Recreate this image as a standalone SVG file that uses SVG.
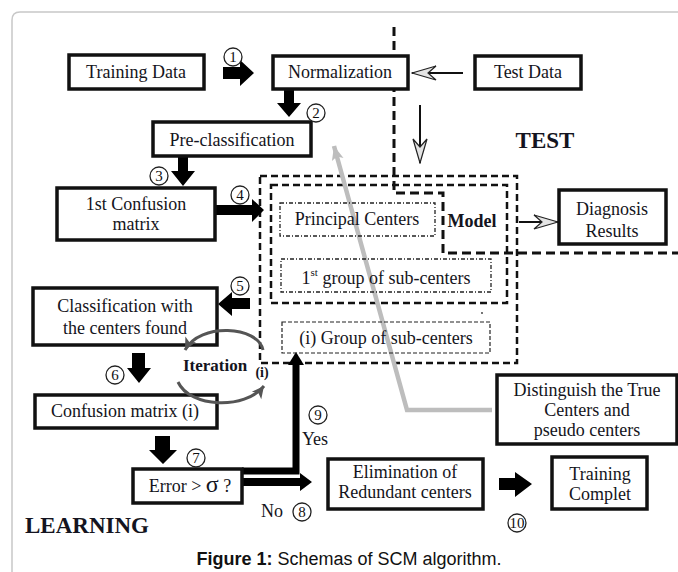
<svg xmlns="http://www.w3.org/2000/svg" width="678" height="572" viewBox="0 0 678 572">
  <style>
    .box { fill: #fff; stroke: #111; stroke-width: 3.5; }
    .t { font-family: "Liberation Serif", "Times New Roman", serif; font-size: 18px; fill: #141420; text-anchor: middle; }
    .tb { font-family: "Liberation Serif", "Times New Roman", serif; font-weight: bold; fill: #141420; text-anchor: middle; }
    .dash { fill: none; stroke: #111; stroke-width: 2.5; stroke-dasharray: 7 4; }
    .dashdot { fill: none; stroke: #222; stroke-width: 1.3; stroke-dasharray: 4 2 1 2; }
    .dashthin { fill: none; stroke: #222; stroke-width: 1.2; stroke-dasharray: 4 2; }
    .blk { fill: #000; stroke: none; }
    .num circle { fill: #fff; stroke: #222; stroke-width: 1.3; }
    .num text { font-family: "Liberation Serif", "Times New Roman", serif; font-size: 15px; fill: #111; text-anchor: middle; }
    .thin { fill: none; stroke: #111; stroke-width: 2; }
    .iter { fill: none; stroke: #555; stroke-width: 3; }
  </style>
  <defs>
    <marker id="open" markerUnits="userSpaceOnUse" markerWidth="26" markerHeight="18" viewBox="0 0 26 18" refX="25" refY="9" orient="auto">
      <path d="M25 9 L1 2 L9 9 L1 16 Z" fill="#e4e4e4" stroke="#222" stroke-width="1.2"/>
    </marker>
    <marker id="gray" markerUnits="userSpaceOnUse" markerWidth="14" markerHeight="14" viewBox="0 0 14 14" refX="13" refY="7" orient="auto">
      <path d="M13 7 L1 1 L4 7 L1 13 Z" fill="#555"/>
    </marker>
    <marker id="greyline" markerUnits="userSpaceOnUse" markerWidth="16" markerHeight="14" viewBox="0 0 16 14" refX="15" refY="7" orient="auto">
      <path d="M15 7 L1 1 L4 7 L1 13 Z" fill="#bdbdbd"/>
    </marker>
  </defs>

  <!-- panel frame -->
  <path d="M12 572 L12 20 Q12 12 20 12 L678 12" fill="none" stroke="#c8c8c8" stroke-width="1.5"/>

  <!-- model region -->
  <g id="model-region">
    <rect class="dash" x="260" y="176" width="257" height="187"/>
    <rect class="dash" x="271" y="185" width="236" height="118"/>
    <circle cx="482" cy="313" r="0.9" fill="#333"/>
  </g>

  <!-- test / learning boundary -->
  <path d="M394 27 V193 H443 V253 H678" fill="none" stroke="#111" stroke-width="3" stroke-dasharray="9 5"/>

  <g id="connectors">
    <!-- grey link: distinguish -> model -->
    <polyline points="492,410 407,410 334,146" fill="none" stroke="#bdbdbd" stroke-width="4.5" marker-end="url(#greyline)"/>
    <!-- 1 -->
    <polygon class="blk" points="223,67 240,67 240,60 254,73 240,86 240,79 223,79"/>
    <!-- 2 -->
    <polygon class="blk" points="284,90 294,90 294,103 301,103 289,117 277,103 284,103"/>
    <!-- 3 -->
    <polygon class="blk" points="178,157 188,157 188,171 195,171 183,186 171,171 178,171"/>
    <!-- 4 -->
    <polygon class="blk" points="215,205 252,205 252,199 264,210 252,222 252,215 215,215"/>
    <!-- 5 -->
    <polygon class="blk" points="250,298 232,298 232,292 218,304 232,316 232,309 250,309"/>
    <!-- 6 -->
    <polygon class="blk" points="132,353 145,353 145,368 151,368 139,383 127,368 132,368"/>
    <!-- 7 -->
    <polygon class="blk" points="155,436 170,436 170,450 177,450 163,464 149,450 155,450"/>
    <!-- 9: yes branch -->
    <polyline points="242,471 296,471 296,362" fill="none" stroke="#000" stroke-width="7"/>
    <polygon class="blk" points="288,365 304,365 296,352"/>
    <!-- 8: no branch -->
    <polygon class="blk" points="242,478 300,478 300,473 312,482 300,491 300,486 242,486"/>
    <!-- 10 -->
    <polygon class="blk" points="499,478 515,478 515,472 532,484 515,497 515,490 499,490"/>
    <!-- thin arrows -->
    <line class="thin" x1="463" y1="73" x2="412" y2="73" marker-end="url(#open)"/>
    <line class="thin" x1="420" y1="105" x2="420" y2="163" marker-end="url(#open)"/>
    <line class="thin" x1="519" y1="222" x2="558" y2="222" marker-end="url(#open)"/>
  </g>

  <g id="training-data">
    <rect class="box" x="69" y="55" width="135" height="34"/>
    <text class="t" x="136" y="78">Training Data</text>
  </g>
  <g id="normalization">
    <rect class="box" x="273" y="56" width="135" height="33"/>
    <text class="t" x="340" y="78">Normalization</text>
  </g>
  <g id="test-data">
    <rect class="box" x="475" y="56" width="106" height="33"/>
    <text class="t" x="528" y="78">Test Data</text>
  </g>
  <g id="pre-classification">
    <rect class="box" x="153" y="122" width="158" height="34"/>
    <text class="t" x="232" y="146">Pre-classification</text>
  </g>
  <g id="first-confusion">
    <rect class="box" x="57" y="188" width="158" height="52"/>
    <text class="t" x="136" y="210" font-size="16">1st Confusion</text>
    <text class="t" x="136" y="230" font-size="16">matrix</text>
  </g>
  <g id="classification">
    <rect class="box" x="33" y="288" width="184" height="57"/>
    <text class="t" x="125" y="312">Classification with</text>
    <text class="t" x="125" y="334">the centers found</text>
  </g>
  <g id="confusion-i">
    <rect class="box" x="35" y="395" width="182" height="33"/>
    <text class="t" x="125" y="417">Confusion matrix (i)</text>
  </g>
  <g id="error-test">
    <rect class="box" x="133" y="469" width="109" height="34"/>
    <text class="t" x="190" y="492">Error &gt; <tspan font-size="24">σ</tspan> ?</text>
  </g>
  <g id="elimination">
    <rect class="box" x="328" y="459" width="155" height="50"/>
    <text class="t" x="405" y="478" font-size="16">Elimination of</text>
    <text class="t" x="405" y="498" font-size="16">Redundant centers</text>
  </g>
  <g id="training-complete">
    <rect class="box" x="552" y="457" width="95" height="52"/>
    <text class="t" x="600" y="480">Training</text>
    <text class="t" x="600" y="500">Complet</text>
  </g>
  <g id="distinguish">
    <rect class="box" x="497" y="375" width="180" height="69"/>
    <text class="t" x="587" y="396" font-size="16">Distinguish the True</text>
    <text class="t" x="587" y="416" font-size="16">Centers and</text>
    <text class="t" x="587" y="436" font-size="16">pseudo centers</text>
  </g>
  <g id="diagnosis">
    <rect class="box" x="559" y="190" width="107" height="54"/>
    <text class="t" x="612" y="215">Diagnosis</text>
    <text class="t" x="612" y="237">Results</text>
  </g>
  <g id="principal-centers">
    <rect class="dashdot" x="280" y="203" width="155" height="33"/>
    <text class="t" x="357" y="225">Principal Centers</text>
  </g>
  <g id="model-label">
    <text class="tb" x="472" y="227" font-size="18">Model</text>
  </g>
  <g id="first-group">
    <rect class="dashdot" x="281" y="259" width="210" height="33"/>
    <text class="t" x="386" y="284">1<tspan font-size="11" dy="-8">st</tspan><tspan dy="8"> group of sub-centers</tspan></text>
  </g>
  <g id="i-group">
    <rect class="dashthin" x="282" y="322" width="208" height="31"/>
    <text class="t" x="386" y="344">(i) Group of sub-centers</text>
  </g>

  <!-- iteration loop, drawn over the boxes it touches -->
  <g id="iteration-loop">
    <path class="iter" d="M263 350 C258 326, 200 322, 185 350" marker-end="url(#gray)"/>
    <path class="iter" d="M178 382 C190 408, 245 410, 264 386" marker-end="url(#gray)"/>
  </g>

  <!-- step numbers -->
  <g class="num">
    <circle cx="233" cy="57" r="9"/><text x="233" y="62">1</text>
    <circle cx="316" cy="113" r="9"/><text x="316" y="118">2</text>
    <circle cx="159" cy="176" r="9"/><text x="159" y="181">3</text>
    <circle cx="240" cy="195" r="9"/><text x="240" y="200">4</text>
    <circle cx="240" cy="286" r="9"/><text x="240" y="291">5</text>
    <circle cx="115" cy="375" r="9"/><text x="115" y="380">6</text>
    <circle cx="196" cy="458" r="9"/><text x="196" y="463">7</text>
    <circle cx="302" cy="512" r="9"/><text x="302" y="517">8</text>
    <circle cx="318" cy="415" r="9"/><text x="318" y="420">9</text>
    <circle cx="517" cy="523" r="9"/><text x="517" y="528" font-size="13">10</text>
  </g>

  <!-- labels -->
  <text class="tb" x="215" y="371" font-size="17">Iteration</text>
  <text class="tb" x="262" y="377" font-size="14">(i)</text>
  <text class="t" x="315" y="445" font-size="17">Yes</text>
  <text class="t" x="272" y="517" font-size="18">No</text>
  <text class="tb" x="545" y="148" font-size="23">TEST</text>
  <text class="tb" x="87" y="533" font-size="23">LEARNING</text>
  <text x="349" y="565" text-anchor="middle" font-family="Liberation Sans, Arial, sans-serif" font-size="18" fill="#111"><tspan font-weight="bold">Figure 1:</tspan> Schemas of SCM algorithm.</text>
</svg>
